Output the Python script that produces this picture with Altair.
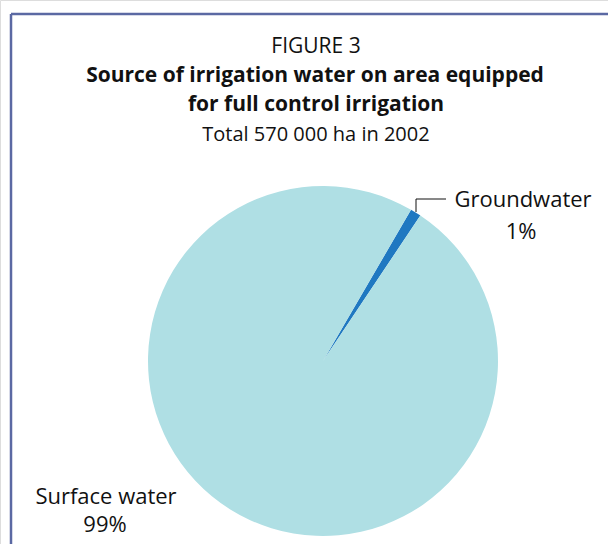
import altair as alt
import pandas as pd

sources = ["Groundwater", "Surface water"]
shares = [1, 99]
colors = ["#1f78c1", "#afdfe4"]

title_top = "FIGURE 3"
title_bold = ["Source of irrigation water on area equipped", "for full control irrigation"]
title_sub = "Total 570 000 ha in 2002"

df = pd.DataFrame({"source": sources, "share": shares, "order": [0, 1]})

FONT = "Open Sans"
W, H = 608, 544
start = 0.527

base = alt.Chart(df)

pie = base.mark_arc(outerRadius=175, stroke=None).encode(
    theta=alt.Theta("share:Q", stack=True,
                    scale=alt.Scale(range=[start, start + 6.283185307])),
    order=alt.Order("order:Q"),
    color=alt.Color("source:N", scale=alt.Scale(domain=sources, range=colors), legend=None),
    x=alt.value(323), y=alt.value(361),
)

def txt(s, x, y, size=18, weight="normal", align="center"):
    return alt.Chart(pd.DataFrame({"t": [s]})).mark_text(
        font=FONT, fontSize=size, fontWeight=weight, align=align, baseline="middle", color="#111111"
    ).encode(text="t:N", x=alt.value(x), y=alt.value(y))

def rule(x1, y1, x2, y2, color, w):
    return alt.Chart(pd.DataFrame({"a": [0]})).mark_rule(color=color, strokeWidth=w).encode(
        x=alt.value(x1), y=alt.value(y1), x2=alt.value(x2), y2=alt.value(y2))

gw = df[df.source == "Groundwater"].iloc[0]
sw = df[df.source == "Surface water"].iloc[0]

layers = [
    rule(11, 14, 608, 14, "#5b69a3", 2.5),
    rule(11, 14, 11, 544, "#5b69a3", 2.5),
    pie,
    rule(416, 199, 416, 212, "#111111", 1),
    rule(416, 199, 446, 199, "#111111", 1),
    txt(title_top, 316, 47, 21),
    txt(title_bold[0], 315, 76, 21, "bold"),
    txt(title_bold[1], 316, 105, 21, "bold"),
    txt(title_sub, 316, 135, 20),
    txt(gw.source, 523, 200, 22),
    txt(f"{gw.share}%", 521, 232, 22),
    txt(sw.source, 106, 497, 22),
    txt(f"{sw.share}%", 105, 525, 22),
]

chart = alt.layer(*layers).properties(
    width=W, height=H, padding=0, autosize=alt.AutoSizeParams(type="none")
).configure_view(stroke=None).configure(background="white")

chart.save("out.html", embed_options={"renderer": "svg", "actions": False})
